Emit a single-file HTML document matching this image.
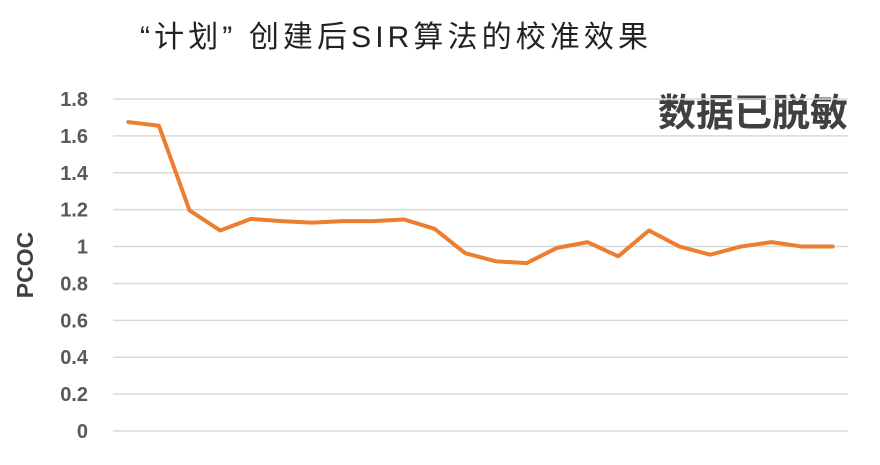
<!DOCTYPE html>
<html><head><meta charset="utf-8"><style>
body{margin:0;background:#fff;}
svg text{font-family:"Liberation Sans","Noto Sans CJK SC",sans-serif;}
</style></head><body>
<svg width="880" height="460">
<text x="140" y="47" font-size="30" fill="#222" textLength="508" lengthAdjust="spacing">“计划” 创建后SIR算法的校准效果</text>
<text x="848" y="126" font-size="38" font-weight="bold" fill="#404040" text-anchor="end">数据已脱敏</text>
<text transform="translate(33,265) rotate(-90)" font-size="23" font-weight="bold" fill="#404040" text-anchor="middle">PCOC</text>
<g id="grid"></g><g id="yt"></g><g id="line"></g>
</svg>
<script>
const ticks=[0,0.2,0.4,0.6,0.8,1,1.2,1.4,1.6,1.8];
const tickLabels=["0","0.2","0.4","0.6","0.8","1","1.2","1.4","1.6","1.8"];
const values=[1.675,1.655,1.196,1.087,1.15,1.138,1.13,1.138,1.138,1.147,1.096,0.964,0.92,0.91,0.993,1.024,0.947,1.087,1.0,0.956,1.0,1.024,1.0,1.0];
const x0=113,x1=848,y0=431,y1=99,ymax=1.8;
const y=v=>y0-(v/ymax)*(y0-y1);
const bw=(x1-x0)/values.length;
const x=i=>x0+bw*(i+0.5);
const ns="http://www.w3.org/2000/svg";
const g=document.getElementById('grid'),yt=document.getElementById('yt'),lg=document.getElementById('line');
ticks.forEach((t,i)=>{
 const l=document.createElementNS(ns,'line');
 l.setAttribute('x1',x0);l.setAttribute('x2',x1);l.setAttribute('y1',y(t));l.setAttribute('y2',y(t));
 l.setAttribute('stroke','#d9d9d9');l.setAttribute('stroke-width','1.5');
 
 
 g.appendChild(l);
 const tx=document.createElementNS(ns,'text');
 tx.setAttribute('x',88);tx.setAttribute('y',y(t)+7);tx.setAttribute('text-anchor','end');
 tx.setAttribute('font-size','20');tx.setAttribute('font-weight','bold');tx.setAttribute('fill','#595959');
 tx.textContent=tickLabels[i];
 
 
 yt.appendChild(tx);
});
const p=document.createElementNS(ns,'polyline');
p.setAttribute('points',values.map((v,i)=>x(i)+','+y(v)).join(' '));
p.setAttribute('fill','none');p.setAttribute('stroke','#ed7d31');p.setAttribute('stroke-width','4');
p.setAttribute('stroke-linejoin','round');p.setAttribute('stroke-linecap','round');


lg.appendChild(p);
</script>
</body></html>
